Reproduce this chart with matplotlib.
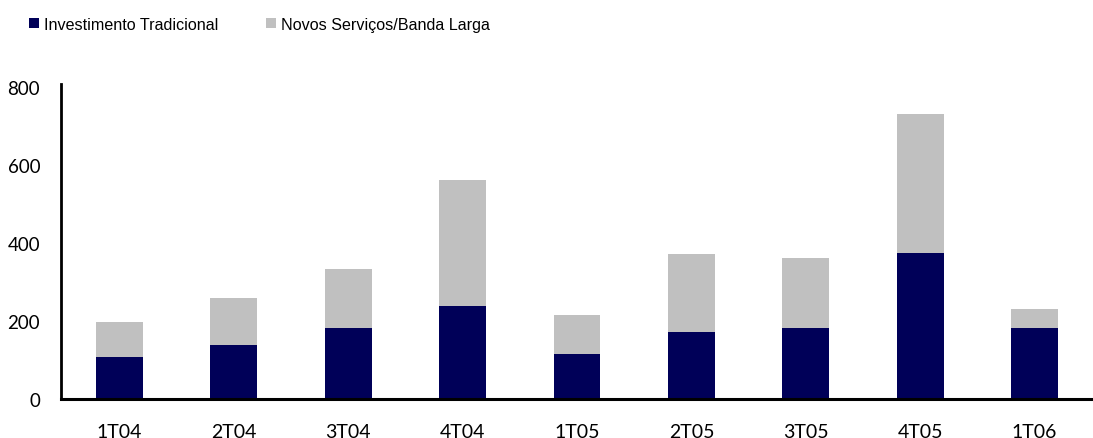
import matplotlib
matplotlib.use("Agg")
import matplotlib.pyplot as plt
import numpy as np

categories = ["1T04", "2T04", "3T04", "4T04", "1T05", "2T05", "3T05", "4T05", "1T06"]
tradicional = [108, 138, 182, 238, 115, 172, 182, 374, 182]
novos = [90, 121, 151, 323, 100, 200, 180, 357, 49]
series_names = ["Investimento Tradicional", "Novos Serviços/Banda Larga"]
yticks = [0, 200, 400, 600, 800]

navy = "#000058"
gray = "#C0C0C0"

fig = plt.figure(figsize=(10.93, 4.39), dpi=100)
ax = fig.add_axes([61 / 1093, (439 - 400) / 439, 1 - 61 / 1093, (400 - 88) / 439])

x = np.arange(len(categories))
b1 = ax.bar(x, tradicional, width=0.41, color=navy, label=series_names[0], zorder=2)
b2 = ax.bar(x, novos, width=0.41, bottom=tradicional, color=gray, label=series_names[1], zorder=2)

ax.set_xlim(-0.51, len(categories) - 0.49)
ax.set_ylim(0, 800)
ax.set_yticks(yticks)
ax.set_xticks(x)
ax.set_xticklabels(categories)

for lab in ax.get_yticklabels():
    lab.set_fontfamily(["Lato", "DejaVu Sans"])
    lab.set_fontsize(13.5)
for lab in ax.get_xticklabels():
    lab.set_fontfamily(["Lato", "DejaVu Sans"])
    lab.set_fontsize(14)
ax.tick_params(axis="both", length=0)
ax.tick_params(axis="y", pad=15)
ax.tick_params(axis="x", pad=17)

for s in ["top", "right"]:
    ax.spines[s].set_visible(False)
ax.spines["left"].set_linewidth(2)
ax.spines["bottom"].set_linewidth(2.2)
ax.spines["left"].set_bounds(0, 808)
ax.spines["left"].set_clip_on(False)

leg = fig.legend(handles=[b1, b2], labels=series_names, loc="upper left",
                 bbox_to_anchor=(29 / 1093, 1 - 18 / 439), ncol=2, frameon=False,
                 prop=dict(family="Liberation Sans", size=11.6),
                 handlelength=0.6, handleheight=0.6, handletextpad=0.3,
                 columnspacing=3.0, borderpad=0, borderaxespad=0)

fig.savefig("out.png", dpi=100)
